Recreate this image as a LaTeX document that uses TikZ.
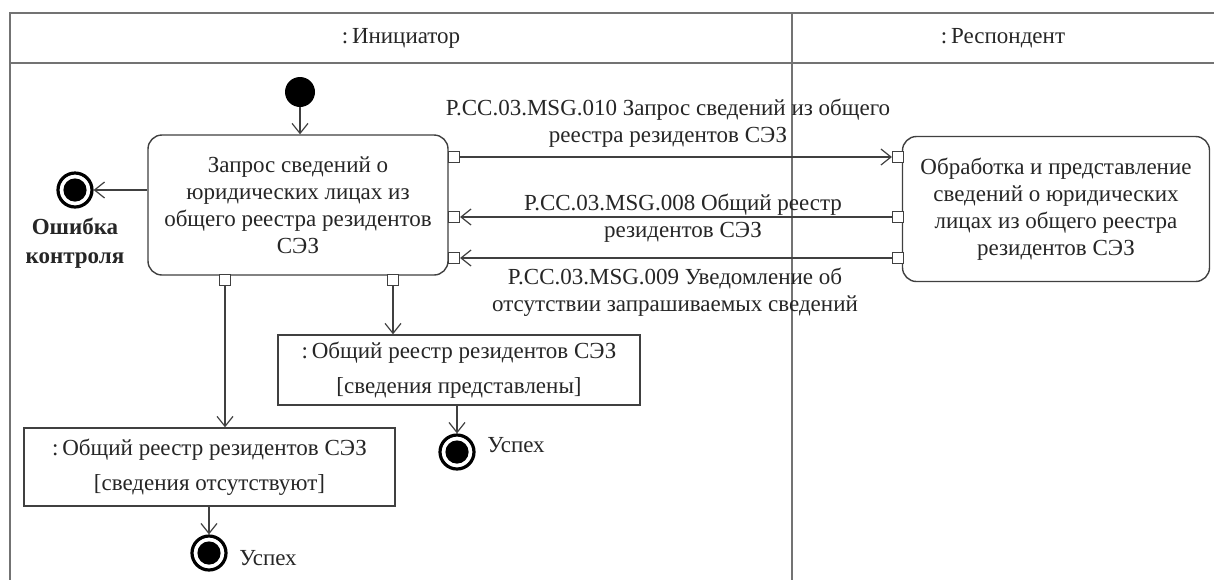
\documentclass[tikz,border=0pt]{standalone}
\usepackage{fontspec}
\setmainfont{Liberation Serif}
\usetikzlibrary{arrows.meta}

\begin{document}
\begin{tikzpicture}[x=0.5pt,y=-0.5pt,
        font=\fontsize{11.5}{13.5}\selectfont, text=black!85,
        lane/.style={draw=black!55, line width=1pt},
        action/.style={draw=black!75, line width=0.7pt, rounded corners=7pt,
            align=center, inner sep=0pt},
        object/.style={draw=black!75, line width=0.7pt, align=center,
            inner sep=0pt, font=\fontsize{11.5}{17.5}\selectfont},
        port/.style={draw=black!75, fill=white, line width=0.6pt,
            minimum size=5.5pt, inner sep=0pt},
        initnode/.style={circle, fill=black, minimum size=15pt, inner sep=0pt},
        finalnode/.style={circle, draw=black, line width=1.6pt, minimum size=17pt,
            inner sep=0pt, path picture={\fill[black]
                (path picture bounding box.center) circle (5.8pt);}},
        flow/.style={draw=black!75, line width=0.6pt,
            -{Straight Barb[length=5pt,width=8pt]}}]
        \useasboundingbox (0,0) rectangle (1214,580);
        \fill[white] (0,0) rectangle (1214,580);

        % swimlanes
        \draw[lane] (1214,13) -- (10,13) -- (10,580);
        \draw[lane] (10,63) -- (1214,63);
        \draw[lane] (792,13) -- (792,580);
        \node (initiator) at (401,38) {:\,Инициатор};
        \node (respondent) at (1003,38) {:\,Респондент};

        % actions
        \node[initnode] (start) at (300,92) {};
        \node[action, minimum width=150pt, minimum height=70pt] (request) at
        (298,205) {Запрос сведений о\\юридических лицах из\\общего реестра
            резидентов\\СЭЗ};
        \node[action, minimum width=153.5pt, minimum height=72.5pt] (process) at
        (1056,209) {Обработка и представление\\сведений о юридических\\лицах из
            общего реестра\\резидентов СЭЗ};
        \node[finalnode] (errend) at (75,190) {};
        \node[align=center, font=\fontsize{11.5}{14.5}\selectfont\bfseries]
        (errlabel) at (75,243) {Ошибка\\контроля};

        % pins
        \node[port] (reqout) at (454,157) {}; \node[port] (reqin1) at (454,217)
        {}; \node[port] (reqin2) at (454,258) {};
        \node[port] (procin) at (898,157) {}; \node[port] (procout1) at
        (898,217) {}; \node[port] (procout2) at (898,258) {};
        \node[port] (reqdown1) at (225,280) {}; \node[port] (reqdown2) at
        (393,280) {};

        % objects
        \node[object, minimum width=181pt, minimum height=35pt] (found) at
        (459,370) {:\,Общий реестр резидентов СЭЗ\\{}[сведения представлены]};
        \node[object, minimum width=185.5pt, minimum height=39pt] (absent) at
        (209.5,467) {:\,Общий реестр резидентов СЭЗ\\{}[сведения отсутствуют]};
        \node[finalnode] (okend1) at (457,452) {};
        \node (oklabel1) at (516,445) {Успех};
        \node[finalnode] (okend2) at (209,553) {};
        \node (oklabel2) at (268,558) {Успех};

        % messages
        \node[align=center] (msg010) at (668,123) {P.CC.03.MSG.010 Запрос
            сведений из общего\\реестра резидентов СЭЗ};
        \node[align=center] (msg008) at (683,218) {P.CC.03.MSG.008 Общий
            реестр\\резидентов СЭЗ};
        \node[align=center] (msg009) at (675,292) {P.CC.03.MSG.009 Уведомление
            об\\отсутствии запрашиваемых сведений};

        % flows
        \draw[flow] (start) -- (start |- request.north);
        \draw[flow] (request.west |- errend) -- (errend);
        \draw[flow] (reqout) -- (procin);
        \draw[flow] (procout1) -- (reqin1);
        \draw[flow] (procout2) -- (reqin2);
        \draw[flow] (reqdown1) -- (reqdown1 |- absent.north);
        \draw[flow] (reqdown2) -- (reqdown2 |- found.north);
        \draw[flow] (found.south -| okend1) -- (okend1);
        \draw[flow] (absent.south -| okend2) -- (okend2);
    \end{tikzpicture}
\end{document}
